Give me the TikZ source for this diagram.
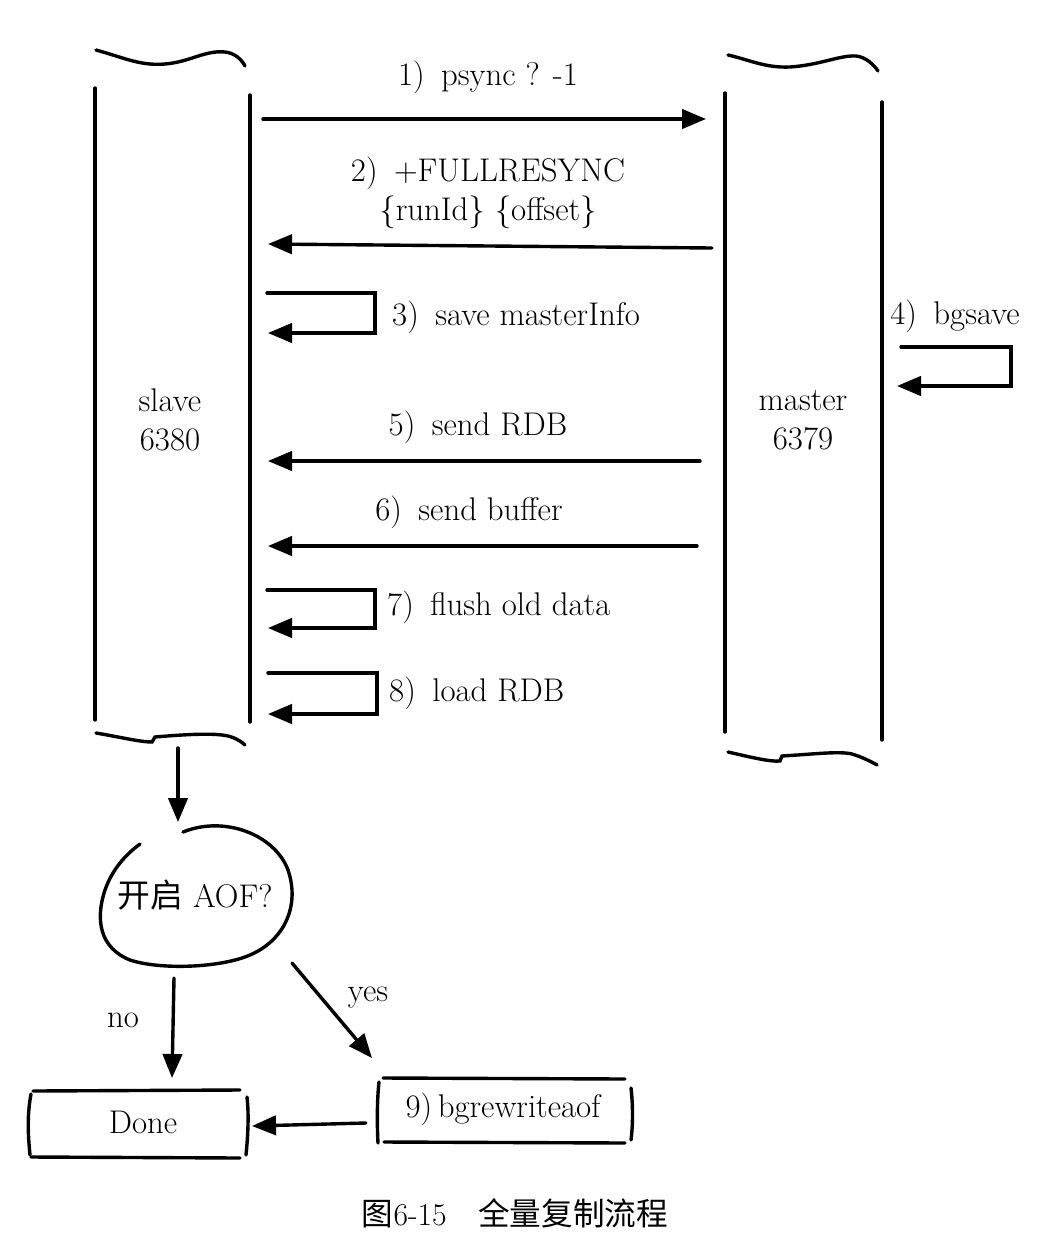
\documentclass[tikz,border=0pt]{standalone}
\usepackage{fontspec}
\newfontfamily\cjk{Noto Sans CJK SC}
\usetikzlibrary{positioning}
\usetikzlibrary{calc}
\usetikzlibrary{arrows.meta}

\begin{document}
\begin{tikzpicture}[x=0.03cm,y=-0.03cm,
  pen/.style={line width=2.9pt,line cap=round,line join=miter},
  msg/.style={pen,-{Triangle[length=0.72cm,width=0.58cm]}},
  lbl/.style={font=\fontsize{28}{33}\selectfont,align=center,inner sep=0pt}]

  \useasboundingbox (0,0) rectangle (1046,1252);

  % slave pillar
  \draw[pen] (96,50) .. controls (125,58) and (140,66) .. (165,64) .. controls (190,62) and (205,50) .. (225,52) .. controls (235,53) and (242,60) .. (245,66);
  \draw[pen] (95,88) -- (95,720);
  \draw[pen] (250,95) -- (250,722);
  \draw[pen] (96,733) .. controls (120,737) and (140,742) .. (152,742) -- (155,737) .. controls (190,734) and (215,733) .. (228,736) .. controls (236,738) and (242,742) .. (245,745);
  \node[lbl] (slave) at (170,420) {slave\\6380};

  % master pillar
  \draw[pen] (728,55) .. controls (750,60) and (765,68) .. (790,67) .. controls (820,65) and (840,55) .. (856,56) .. controls (866,57) and (874,65) .. (878,71);
  \draw[pen] (725,93) -- (725,732);
  \draw[pen] (882,102) -- (882,740);
  \draw[pen] (728,752) .. controls (750,757) and (770,762) .. (780,761) -- (782,756) .. controls (815,754) and (840,751) .. (852,754) .. controls (862,757) and (872,762) .. (877,765);
  \node[lbl] (master) at (803,420) {master\\6379};

  % messages
  \coordinate (s1) at (263,119);
  \coordinate (m1) at (706,119);
  \node[lbl] (t1) at (488,77) {1)\enspace psync ? -1};
  \path [msg] (s1) edge (m1);

  \coordinate (m2) at (712,248);
  \coordinate (s2) at (268,244);
  \node[lbl] (t2) at (488,193) {2)\enspace +FULLRESYNC\\\{runId\}~\{offset\}};
  \path [msg] (m2) edge (s2);

  \coordinate (l3a) at (267,293);
  \coordinate (l3b) at (268,333);
  \node[lbl,anchor=west] (t3) at (392,317) {3)\enspace save masterInfo};
  \draw [msg] (l3a) -- ++(108,0) |- (l3b);

  \coordinate (l4a) at (901,347);
  \coordinate (l4b) at (897,386);
  \node[lbl] (t4) at (955,316) {4)\enspace bgsave};
  \draw [msg] (l4a) -- ++(110,0) |- (l4b);

  \coordinate (m5) at (700,461);
  \coordinate (s5) at (268,461);
  \node[lbl] (t5) at (478,427) {5)\enspace send RDB};
  \path [msg] (m5) edge (s5);

  \coordinate (m6) at (697,546);
  \coordinate (s6) at (268,546);
  \node[lbl] (t6) at (469,512) {6)\enspace send buffer};
  \path [msg] (m6) edge (s6);

  \coordinate (l7a) at (267,590);
  \coordinate (l7b) at (268,628);
  \node[lbl,anchor=west] (t7) at (387,607) {7)\enspace flush old data};
  \draw [msg] (l7a) -- ++(108,0) |- (l7b);

  \coordinate (l8a) at (268,673);
  \coordinate (l8b) at (268,714);
  \node[lbl,anchor=west] (t8) at (389,693) {8)\enspace load RDB};
  \draw [msg] (l8a) -- ++(109,0) |- (l8b);

  % AOF decision
  \coordinate (sb) at (178,748);
  \coordinate (aoftop) at (178,822);
  \path [msg] (sb) edge (aoftop);
  \draw[pen] (183,832) .. controls (225,815) and (275,835) .. (288,870) .. controls (300,905) and (285,940) .. (250,955) .. controls (220,968) and (160,970) .. (130,960) .. controls (100,948) and (95,920) .. (105,890) .. controls (112,870) and (125,855) .. (140,844);
  \node[lbl] (aof) at (195,895) {{\cjk 开启}~AOF?};

  \node[lbl] (done) at (143,1122) {Done};
  \node[lbl] (bgr) at (503,1109) {9)\,bgrewriteaof};
  \draw[pen] (33,1091) -- (240,1090);
  \draw[pen] (31,1157) -- (240,1158);
  \draw[pen] (31,1094) .. controls (27,1115) and (28,1135) .. (30,1155);
  \draw[pen] (247,1097) .. controls (249,1115) and (248,1135) .. (246,1155);
  \draw[pen] (383,1078) -- (625,1079);
  \draw[pen] (384,1142) -- (625,1143);
  \draw[pen] (379,1082) .. controls (377,1100) and (377,1125) .. (378,1143);
  \draw[pen] (631,1088) .. controls (633,1105) and (633,1125) .. (631,1140);

  \coordinate (no0) at (174,978);
  \coordinate (no1) at (172,1078);
  \path [msg] (no0) edge (no1);
  \node[lbl] (no) at (123,1020) {no};

  \coordinate (yes0) at (292,963);
  \coordinate (yes1) at (372,1058);
  \path [msg] (yes0) edge (yes1);
  \node[lbl] (yes) at (368,998) {yes};

  \coordinate (r0) at (366,1123);
  \coordinate (r1) at (252,1126);
  \path [msg] (r0) edge (r1);

  \node[font=\fontsize{27}{32}\selectfont] (caption) at (515,1213) {{\cjk 图}6-15\quad{\cjk 全量复制流程}};
\end{tikzpicture}
\end{document}
